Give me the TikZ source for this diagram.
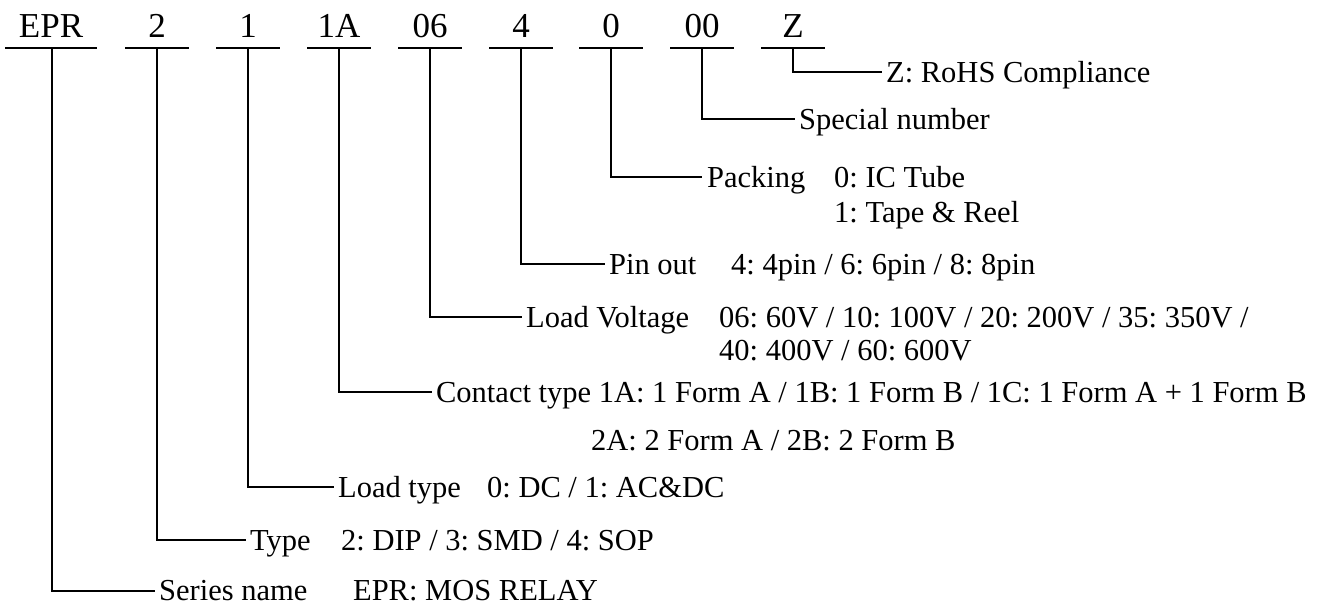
\documentclass[tikz,border=0pt]{standalone}
\usepackage{fontspec}
\setmainfont{Liberation Serif}
\frenchspacing
\begin{document}
\begin{tikzpicture}[x=1pt,y=-1pt,line width=2.3pt,
  code/.style={anchor=south,inner xsep=0pt,inner ysep=9pt,text depth=0pt,minimum width=61pt,font=\fontsize{35}{40}\selectfont},
  desc/.style={anchor=base west,inner sep=0pt,font=\fontsize{30.5}{36}\selectfont},
  uline/.style={line width=2.3pt},
  link/.style={line width=2.3pt}]
\useasboundingbox (0,0) rectangle (1317,606);
% code parts
\node[code,minimum width=89pt] (cEPR) at (51,48) {EPR};
\node[code] (c2)  at (157,48) {2};
\node[code] (c1)  at (248,48) {1};
\node[code] (c1A) at (339,48) {1A};
\node[code] (c06) at (430,48) {06};
\node[code] (c4)  at (521,48) {4};
\node[code] (c0)  at (611,48) {0};
\node[code] (c00) at (702,48) {00};
\node[code] (cZ)  at (793,48) {Z};
\foreach \n in {cEPR,c2,c1,c1A,c06,c4,c0,c00,cZ}
  \draw[uline] (\n.south west) -- (\n.south east);
% descriptions
\node[desc] (dZ) at (885,82) {Z: RoHS Compliance};
\node[desc] (d00) at (798,129.5) {Special number};
\node[desc] (dPack) at (706,187.5) {Packing};
\node[desc] (vPack1) at (833,187.5) {0: IC Tube};
\node[desc] (vPack2) at (833,222) {1: Tape \& Reel};
\node[desc] (dPin) at (608,274.5) {Pin out};
\node[desc] (vPin) at (730,274.5) {4: 4pin / 6: 6pin / 8: 8pin};
\node[desc] (dLV) at (525,327.5) {Load Voltage};
\node[desc] (vLV1) at (718,327.5) {06: 60V / 10: 100V / 20: 200V / 35: 350V /};
\node[desc] (vLV2) at (718,360) {40: 400V / 60: 600V};
\node[desc] (dCT) at (435,402.5) {Contact type 1A: 1 Form A / 1B: 1 Form B / 1C: 1 Form A + 1 Form B};
\node[desc] (vCT2) at (590,450) {2A: 2 Form A / 2B: 2 Form B};
\node[desc] (dLT) at (337,497.5) {Load type};
\node[desc] (vLT) at (486,497.5) {0: DC / 1: AC\&DC};
\node[desc] (dTy) at (249,550.5) {Type};
\node[desc] (vTy) at (340,550.5) {2: DIP / 3: SMD / 4: SOP};
\node[desc] (dSN) at (158,600) {Series name};
\node[desc] (vSN) at (352,600) {EPR: MOS RELAY};
% branch ends
\coordinate (eZ) at (882,72);
\coordinate (e00) at (795,119);
\coordinate (e0) at (702,177);
\coordinate (e4) at (605,264);
\coordinate (e06) at (522,317);
\coordinate (e1A) at (432,392);
\coordinate (e1) at (334,487);
\coordinate (e2) at (246,540);
\coordinate (eEPR) at (155,591);
% connectors
\draw[link] (cZ.south) |- (eZ);
\draw[link] (c00.south) |- (e00);
\draw[link] (c0.south) |- (e0);
\draw[link] (c4.south) |- (e4);
\draw[link] (c06.south) |- (e06);
\draw[link] (c1A.south) |- (e1A);
\draw[link] (c1.south) |- (e1);
\draw[link] (c2.south) |- (e2);
\draw[link] ([xshift=1pt]cEPR.south) |- (eEPR);
\end{tikzpicture}
\end{document}
